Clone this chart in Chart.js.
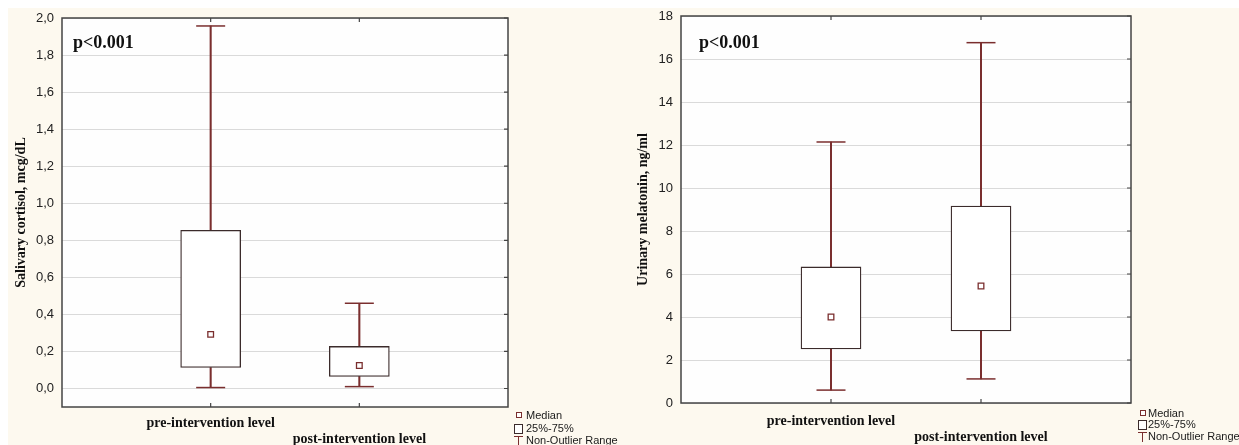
<!DOCTYPE html>
<html>
<head>
<meta charset="utf-8">
<script src="https://cdn.jsdelivr.net/npm/chart.js@4.4.0/dist/chart.umd.min.js"></script>
<style>
html,body{margin:0;padding:0;background:#fff;}
#wrap{position:relative;width:1239px;height:445px;overflow:hidden;background:#fff;}
#cream{position:absolute;left:8px;top:8px;right:0;bottom:0;background:#fdf9ef;}
canvas{position:absolute;top:0;}
.ptext{position:absolute;font:bold 18px "Liberation Serif","Times New Roman",serif;color:#111;line-height:18px;white-space:nowrap;}
.leg{position:absolute;font:11px "Liberation Sans",Arial,sans-serif;color:#1a1a1a;line-height:12px;white-space:nowrap;}
.ic{position:absolute;box-sizing:border-box;}
</style>
</head>
<body>
<div id="wrap">
  <div id="cream"></div>
  <canvas id="c1" width="620" height="445" style="left:0px"></canvas>
  <canvas id="c2" width="619" height="445" style="left:620px"></canvas>

  <div class="ptext" style="left:73px;top:33px;">p&lt;0.001</div>
  <div class="ptext" style="left:699px;top:33px;">p&lt;0.001</div>

  <!-- legend left -->
  <div class="ic" style="left:516px;top:412px;width:6px;height:6px;border:1.3px solid #7a2e2e;background:#fff;"></div>
  <div class="leg" style="left:526px;top:409px;">Median</div>
  <div class="ic" style="left:514px;top:424px;width:9px;height:10px;border:1.3px solid #3b2b2b;background:#fff;"></div>
  <div class="leg" style="left:526px;top:422px;">25%-75%</div>
  <div class="ic" style="left:514px;top:436px;width:9px;height:1.4px;background:#7a2e2e;"></div>
  <div class="ic" style="left:518px;top:436px;width:1.4px;height:10px;background:#7a2e2e;"></div>
  <div class="leg" style="left:526px;top:434px;">Non-Outlier Range</div>

  <!-- legend right -->
  <div class="ic" style="left:1140px;top:410px;width:6px;height:6px;border:1.3px solid #7a2e2e;background:#fff;"></div>
  <div class="leg" style="left:1148px;top:407px;">Median</div>
  <div class="ic" style="left:1138px;top:420px;width:9px;height:10px;border:1.3px solid #3b2b2b;background:#fff;"></div>
  <div class="leg" style="left:1148px;top:418px;">25%-75%</div>
  <div class="ic" style="left:1138px;top:432px;width:9px;height:1.4px;background:#7a2e2e;"></div>
  <div class="ic" style="left:1142px;top:432px;width:1.4px;height:10px;background:#7a2e2e;"></div>
  <div class="leg" style="left:1148px;top:430px;">Non-Outlier Range</div>
</div>

<script>
// ---------- DATA ----------
const categories = ['pre-intervention level', 'post-intervention level'];

// Salivary cortisol, mcg/dL
const cortisolMin    = [0.005, 0.010];
const cortisolQ1     = [0.113, 0.065];
const cortisolMedian = [0.292, 0.124];
const cortisolQ3     = [0.854, 0.227];
const cortisolMax    = [1.957, 0.460];
const cortisolTicks      = [0.0, 0.2, 0.4, 0.6, 0.8, 1.0, 1.2, 1.4, 1.6, 1.8, 2.0];
const cortisolTickLabels = ['0,0','0,2','0,4','0,6','0,8','1,0','1,2','1,4','1,6','1,8','2,0'];

// Urinary melatonin, ng/ml
const melatoninMin    = [0.60, 1.12];
const melatoninQ1     = [2.51, 3.35];
const melatoninMedian = [4.00, 5.44];
const melatoninQ3     = [6.33, 9.16];
const melatoninMax    = [12.14, 16.76];
const melatoninTicks      = [0, 2, 4, 6, 8, 10, 12, 14, 16, 18];
const melatoninTickLabels = ['0','2','4','6','8','10','12','14','16','18'];

// ---------- STYLE ----------
const MAROON = '#7a2e2e';
const BOXLINE = '#3b2b2b';
const FRAME = '#444444';
const GRID = '#dadada';

const pad = a => [null, ...a, null];

const framePlugin = {
  id: 'frame',
  beforeDraw(chart) {
    const {ctx, chartArea: a} = chart;
    ctx.save();
    ctx.fillStyle = '#fefefe';
    ctx.fillRect(a.left, a.top, a.right - a.left, a.bottom - a.top);
    ctx.restore();
  },
  afterDraw(chart) {
    const {ctx, chartArea: a} = chart;
    const ys = chart.scales.y, xs = chart.scales.x;
    ctx.save();
    ctx.strokeStyle = FRAME;
    ctx.lineWidth = 1.5;
    ctx.strokeRect(a.left, a.top, a.right - a.left, a.bottom - a.top);
    ctx.lineWidth = 1.2;
    ctx.beginPath();
    ys.ticks.forEach(t => {
      const y = ys.getPixelForValue(t.value);
      ctx.moveTo(a.right - 4, y); ctx.lineTo(a.right, y);
    });
    [1, 2].forEach(i => {
      const x = xs.getPixelForValue(i);
      ctx.moveTo(x, a.top); ctx.lineTo(x, a.top + 4);
      ctx.moveTo(x, a.bottom); ctx.lineTo(x, a.bottom - 4);
    });
    ctx.stroke();
    ctx.restore();
  }
};

function makeChart(id, o) {
  const boxData = o.q1.map((v, i) => [v, o.q3[i]]);
  const upData = o.q3.map((v, i) => [v, o.max[i]]);
  const loData = o.min.map((v, i) => [v, o.q1[i]]);
  return new Chart(document.getElementById(id), {
    type: 'bar',
    data: {
      labels: ['', ...categories, ''],
      datasets: [
        {type: 'bar', data: pad(upData), backgroundColor: MAROON, borderWidth: 0, barThickness: 1.4, grouped: false, order: 5},
        {type: 'bar', data: pad(loData), backgroundColor: MAROON, borderWidth: 0, barThickness: 1.4, grouped: false, order: 5},
        {type: 'bar', data: pad(boxData), backgroundColor: '#ffffff', borderColor: BOXLINE, borderWidth: 1.3, borderSkipped: false, barThickness: 60, grouped: false, order: 3},
        {type: 'line', data: pad(o.max), showLine: false, pointStyle: 'line', pointRadius: 14.5, borderColor: MAROON, pointBorderColor: MAROON, pointBorderWidth: 1.5, order: 1},
        {type: 'line', data: pad(o.min), showLine: false, pointStyle: 'line', pointRadius: 14.5, borderColor: MAROON, pointBorderColor: MAROON, pointBorderWidth: 1.5, order: 1},
        {type: 'line', data: pad(o.median), showLine: false, pointStyle: 'rect', pointRadius: 4, pointBackgroundColor: '#ffffff', pointBorderColor: MAROON, pointBorderWidth: 1.3, order: 0}
      ]
    },
    options: {
      responsive: false,
      animation: false,
      events: [],
      layout: {padding: o.padding},
      plugins: {legend: {display: false}, tooltip: {enabled: false}},
      scales: {
        x: {
          type: 'category',
          offset: false,
          grid: {display: false},
          border: {display: false},
          ticks: {
            autoSkip: false, maxRotation: 0, minRotation: 0,
            padding: o.xPad,
            color: '#111',
            font: {family: '"Liberation Serif","Times New Roman",serif', size: 14, weight: 'bold', lineHeight: 1.1},
            callback: (v, i) => i === 1 ? [categories[0]] : (i === 2 ? ['', categories[1]] : '')
          },
          afterFit: s => { s.height = o.xHeight; }
        },
        y: {
          type: 'linear',
          min: o.yMin, max: o.yMax,
          afterBuildTicks: s => { s.ticks = o.ticks.map(v => ({value: v})); },
          grid: {color: GRID, lineWidth: 1, drawTicks: false},
          border: {display: false},
          ticks: {
            padding: 8,
            color: '#222',
            font: {family: '"Liberation Sans",Arial,sans-serif', size: 13},
            callback: (v, i) => o.tickLabels[i]
          },
          title: {
            display: true,
            text: o.title,
            color: '#111',
            font: {family: '"Liberation Serif","Times New Roman",serif', size: 14, weight: 'bold'},
            padding: {top: o.titlePad, bottom: 0}
          },
          afterFit: s => { s.width = o.yWidth; }
        }
      }
    },
    plugins: [framePlugin]
  });
}

makeChart('c1', {
  min: cortisolMin, q1: cortisolQ1, median: cortisolMedian, q3: cortisolQ3, max: cortisolMax,
  ticks: cortisolTicks, tickLabels: cortisolTickLabels,
  yMin: -0.1, yMax: 2.0,
  title: 'Salivary cortisol, mcg/dL',
  padding: {left: 0, top: 18, right: 112, bottom: 0},
  yWidth: 62, xHeight: 38, xPad: 1, titlePad: 12.5
});

makeChart('c2', {
  min: melatoninMin, q1: melatoninQ1, median: melatoninMedian, q3: melatoninQ3, max: melatoninMax,
  ticks: melatoninTicks, tickLabels: melatoninTickLabels,
  yMin: 0, yMax: 18,
  title: 'Urinary melatonin, ng/ml',
  padding: {left: 0, top: 15, right: 108, bottom: 0},
  yWidth: 61, xHeight: 42, xPad: 3, titlePad: 15
});
</script>
</body>
</html>
